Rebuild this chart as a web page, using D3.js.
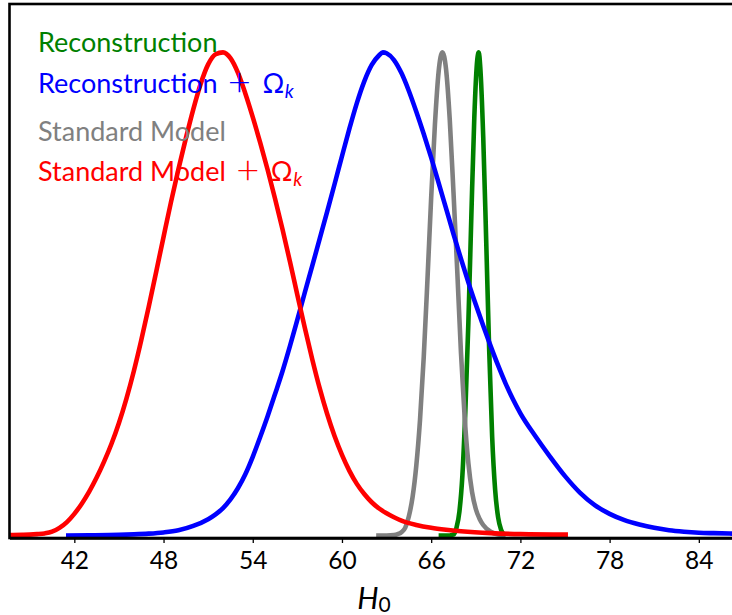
<!DOCTYPE html>
<html>
<head>
<meta charset="utf-8">
<script src="https://cdn.jsdelivr.net/npm/d3@7"></script>
<style>
  html, body { margin: 0; padding: 0; background: #fff; }
  svg { display: block; }
  text { font-family: Lato, "DejaVu Sans", sans-serif; }
</style>
</head>
<body>
<svg id="chart" width="732" height="615"></svg>
<script>
// ---------------- data ----------------
const xTicks = [42, 48, 54, 60, 66, 72, 78, 84];
const xLabel = "H";
const xLabelSub = "0";

const legendLabels = ["Reconstruction", "Reconstruction", "Standard Model", "Standard Model"];
const legendOmega = [false, true, false, true];
const seriesColors = ["#008000", "#0000ff", "#808080", "#ff0000"];

// Reconstruction (green)
const greenH0 = [66.5, 67.0, 67.5, 67.7, 67.9, 68.1, 68.3, 68.5, 68.7, 68.9, 69.1, 69.2, 69.3, 69.5, 69.7, 69.9, 70.1, 70.3, 70.5, 70.7, 70.9, 71.0];
const greenP  = [0.0, 0.0, 0.002, 0.016, 0.05, 0.125, 0.26, 0.44, 0.66, 0.865, 0.985, 1.0, 0.97, 0.825, 0.61, 0.385, 0.205, 0.095, 0.038, 0.012, 0.002, 0.0];

// Reconstruction + Omega_k (blue)
const blueH0 = [41.44, 43, 45, 46, 47, 48, 49, 50, 51, 51.5, 52, 52.5, 53, 53.5, 54, 54.5, 55, 55.5, 56, 56.5, 57, 57.5, 58, 58.5, 59, 59.5, 60, 60.5, 61, 61.5, 62, 62.5, 62.75, 63, 63.5, 64, 64.5, 65, 65.5, 66, 66.5, 67, 67.5, 68, 68.5, 69, 69.5, 70, 70.5, 71, 71.5, 72, 73, 74, 75, 76, 77, 78, 79, 80, 81, 82, 83, 84, 85, 86.5];
const blueP  = [0.0, 0.0005, 0.0015, 0.0025, 0.004, 0.0065, 0.011, 0.02, 0.034, 0.044, 0.057, 0.075, 0.098, 0.127, 0.163, 0.204, 0.247, 0.293, 0.34, 0.392, 0.447, 0.503, 0.558, 0.614, 0.67, 0.727, 0.785, 0.842, 0.895, 0.94, 0.974, 0.994, 1.0, 0.998, 0.984, 0.957, 0.92, 0.877, 0.831, 0.782, 0.73, 0.677, 0.624, 0.573, 0.524, 0.478, 0.434, 0.392, 0.352, 0.315, 0.282, 0.253, 0.206, 0.163, 0.123, 0.089, 0.063, 0.045, 0.032, 0.023, 0.016, 0.011, 0.008, 0.006, 0.005, 0.004];

// Standard Model (gray)
const grayH0 = [62.3, 63.0, 63.5, 63.75, 64.0, 64.25, 64.5, 64.75, 65.0, 65.25, 65.5, 65.75, 66.0, 66.25, 66.5, 66.75, 67.0, 67.25, 67.5, 67.75, 68.0, 68.25, 68.5, 68.75, 69.0, 69.25, 69.5, 70.0, 70.5, 71.0];
const grayP  = [0.0, 0.0, 0.001, 0.003, 0.007, 0.016, 0.04, 0.08, 0.145, 0.24, 0.37, 0.53, 0.70, 0.85, 0.96, 1.0, 0.965, 0.86, 0.71, 0.55, 0.38, 0.245, 0.15, 0.09, 0.055, 0.035, 0.022, 0.008, 0.002, 0.0];

// Standard Model + Omega_k (red)
const redH0 = [37.5, 38.5, 39.0, 39.5, 40.0, 40.5, 41.0, 41.5, 42.0, 42.5, 43.0, 43.5, 44.0, 44.5, 45.0, 45.5, 46.0, 46.5, 47.0, 47.5, 48.0, 48.5, 49.0, 49.5, 50.0, 50.5, 51.0, 51.5, 52.0, 52.5, 53.0, 53.5, 54.0, 54.5, 55.0, 55.5, 56.0, 56.5, 57.0, 57.5, 58.0, 58.5, 59.0, 59.5, 60.0, 60.5, 61.0, 61.5, 62.0, 62.5, 63.0, 63.5, 64.0, 65.0, 66.0, 67.0, 68.0, 70.0, 72.0, 75.2];
const redP  = [0.001, 0.0015, 0.002, 0.003, 0.0045, 0.008, 0.016, 0.028, 0.045, 0.066, 0.091, 0.12, 0.153, 0.19, 0.233, 0.283, 0.34, 0.404, 0.473, 0.545, 0.618, 0.69, 0.758, 0.822, 0.882, 0.935, 0.975, 0.996, 1.0, 0.988, 0.958, 0.915, 0.866, 0.813, 0.757, 0.697, 0.634, 0.567, 0.498, 0.43, 0.365, 0.305, 0.252, 0.206, 0.167, 0.134, 0.107, 0.086, 0.069, 0.056, 0.046, 0.038, 0.031, 0.022, 0.016, 0.012, 0.009, 0.005, 0.003, 0.002];

// ---------------- chart ----------------
const svg = d3.select("#chart");
const pLeft = 9.5, pRight = 736, pTop = 4, pBottom = 538;

const x = d3.scaleLinear().domain([37.64, 86.5]).range([pLeft, pRight]);
const y = d3.scaleLinear().domain([-0.005, 1.1]).range([pBottom, pTop]);

svg.append("defs").append("clipPath").attr("id", "clip")
  .append("rect").attr("x", pLeft).attr("y", pTop).attr("width", pRight - pLeft).attr("height", pBottom - pTop);

const line = d3.line()
  .x(d => x(d[0]))
  .y(d => y(d[1]))
  .curve(d3.curveMonotoneX);

const series = [
  { h: greenH0, p: greenP, c: seriesColors[0] },
  { h: grayH0,  p: grayP,  c: seriesColors[2] },
  { h: blueH0,  p: blueP,  c: seriesColors[1] },
  { h: redH0,   p: redP,   c: seriesColors[3] }
];

const g = svg.append("g").attr("clip-path", "url(#clip)");
series.forEach(s => {
  g.append("path")
    .datum(s.h.map((v, i) => [v, s.p[i]]))
    .attr("d", line)
    .attr("fill", "none")
    .attr("stroke", s.c)
    .attr("stroke-width", 4.6)
    .attr("stroke-linejoin", "round")
    .attr("stroke-linecap", "butt");
});

// frame
svg.append("rect")
  .attr("x", pLeft).attr("y", pTop)
  .attr("width", pRight - pLeft).attr("height", pBottom - pTop)
  .attr("fill", "none").attr("stroke", "#000").attr("stroke-width", 2.6);

// x axis
const ax = svg.append("g").attr("transform", `translate(0,${pBottom})`)
  .call(d3.axisBottom(x).tickValues(xTicks).tickFormat(d3.format("d")).tickSize(5).tickSizeOuter(0));
ax.select(".domain").attr("stroke", "#000").attr("stroke-width", 2.6);
ax.selectAll(".tick line").attr("stroke", "#000").attr("stroke-width", 1.3);
ax.selectAll(".tick text")
  .attr("dy", null).attr("y", 31)
  .attr("fill", "#000")
  .style("font-size", "24.5px")
  .style("font-family", "Lato, 'DejaVu Sans', sans-serif");

// x label
const xl = svg.append("text")
  .attr("x", 374).attr("y", 609)
  .attr("text-anchor", "middle")
  .style("font-size", "30px")
  .attr("fill", "#000");
xl.append("tspan").style("font-style", "italic").text(xLabel);
xl.append("tspan").attr("dy", 3).style("font-size", "21px").text(xLabelSub);

// legend
const legendY = [52, 93, 141, 181];
legendLabels.forEach((lab, i) => {
  const t = svg.append("text")
    .attr("x", 38).attr("y", legendY[i])
    .attr("fill", seriesColors[i])
    .style("font-size", "27px")
    .text(lab);
  if (legendOmega[i]) {
    const w = t.node().getComputedTextLength();
    const x0 = 38 + w;
    svg.append("text")
      .attr("x", x0 + 22).attr("y", legendY[i] + 3)
      .attr("text-anchor", "middle")
      .attr("fill", seriesColors[i])
      .style("font-size", "40px")
      .style("font-weight", "300")
      .text("+");
    const om = svg.append("text")
      .attr("x", x0 + 45).attr("y", legendY[i])
      .attr("fill", seriesColors[i])
      .style("font-size", "27px")
      .text("Ω");
    const ow = om.node().getComputedTextLength();
    svg.append("text")
      .attr("x", x0 + 45 + ow + 0.5).attr("y", legendY[i] + 5)
      .attr("fill", seriesColors[i])
      .style("font-size", "19px")
      .style("font-style", "italic")
      .text("k");
  }
});
</script>
</body>
</html>
